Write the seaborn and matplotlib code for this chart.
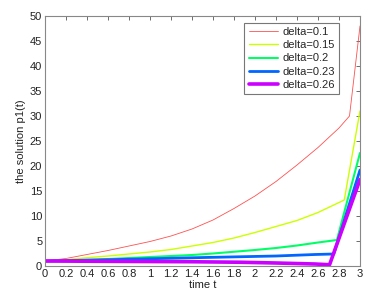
import numpy as np
import pandas as pd
import matplotlib
matplotlib.use('Agg')
import matplotlib.pyplot as plt
import seaborn as sns

# values (time t, p1(t)) for each delta
labels = ['delta=0.1', 'delta=0.15', 'delta=0.2', 'delta=0.23', 'delta=0.26']

t_01 = [0, 0.2, 0.4, 0.6, 0.8, 1.0, 1.2, 1.4, 1.6, 1.8, 2.0, 2.2, 2.4, 2.6, 2.8, 2.9, 3.0]
p_01 = [1.0, 1.5, 2.3, 3.1, 4.0, 4.9, 6.0, 7.4, 9.2, 11.5, 14.0, 16.9, 20.2, 23.7, 27.6, 30.0, 48.0]

t_015 = [0, 0.2, 0.4, 0.6, 0.8, 1.0, 1.2, 1.4, 1.6, 1.8, 2.0, 2.2, 2.4, 2.6, 2.85, 3.0]
p_015 = [1.0, 1.3, 1.65, 2.0, 2.4, 2.8, 3.3, 4.0, 4.7, 5.6, 6.7, 7.9, 9.1, 10.7, 13.2, 31.0]

t_02 = [0, 0.2, 0.4, 0.6, 0.8, 1.0, 1.2, 1.4, 1.6, 1.8, 2.0, 2.2, 2.4, 2.6, 2.78, 3.0]
p_02 = [1.0, 1.1, 1.25, 1.4, 1.6, 1.8, 2.0, 2.2, 2.5, 2.85, 3.2, 3.6, 4.1, 4.7, 5.2, 22.6]

t_023 = [0, 0.5, 0.9, 1.4, 1.86, 2.2, 2.57, 2.75, 3.0]
p_023 = [1.0, 1.2, 1.4, 1.65, 1.85, 2.0, 2.3, 2.4, 19.2]

t_026 = [0, 0.9, 1.4, 1.86, 2.2, 2.57, 2.71, 3.0]
p_026 = [1.0, 0.9, 0.85, 0.75, 0.6, 0.4, 0.25, 17.3]

colors = ['#ff5050', '#ccff00', '#00ff66', '#0066ff', '#cc00ff']
widths = [0.6, 1.0, 1.5, 2.0, 2.6]

sns.set_style('white')
plt.rcParams['font.family'] = ['Liberation Sans', 'DejaVu Sans']
plt.rcParams['font.size'] = 8

fig = plt.figure(figsize=(3.8, 2.95), dpi=100)
ax = fig.add_axes([45 / 380, 29 / 295, 315 / 380, 250 / 295])

series = [(t_01, p_01), (t_015, p_015), (t_02, p_02), (t_023, p_023), (t_026, p_026)]
for (t, p), lab, c, w in zip(series, labels, colors, widths):
    df = pd.DataFrame({'t': t, 'p': p})
    sns.lineplot(data=df, x='t', y='p', color=c, linewidth=w, label=lab, ax=ax, sort=False)

xt = np.round(np.arange(0, 3.01, 0.2), 1)
ax.set_xlim(0, 3)
ax.set_ylim(0, 50)
ax.set_xticks(xt)
ax.set_xticklabels(['%g' % v for v in xt])
ax.set_yticks(np.arange(0, 51, 5))
ax.tick_params(direction='in', length=3, width=0.6, top=True, right=True,
               colors='#555555', labelcolor='#222222', labelsize=8, pad=2)
for s in ax.spines.values():
    s.set_color('#888888')
    s.set_linewidth(0.8)
ax.set_xlabel('time t', fontsize=8, labelpad=1, color='#222222')
ax.set_ylabel('the solution p1(t)', fontsize=8, labelpad=3, color='#222222')

leg = ax.legend(loc='upper right', bbox_to_anchor=(0.934, 0.973), borderaxespad=0,
                fontsize=8, frameon=True, fancybox=False, handlelength=2.6,
                handletextpad=0.4, labelspacing=0.28, borderpad=0.4)
leg.get_frame().set_edgecolor('#555555')
leg.get_frame().set_linewidth(0.8)

fig.savefig('out.png', dpi=100)
